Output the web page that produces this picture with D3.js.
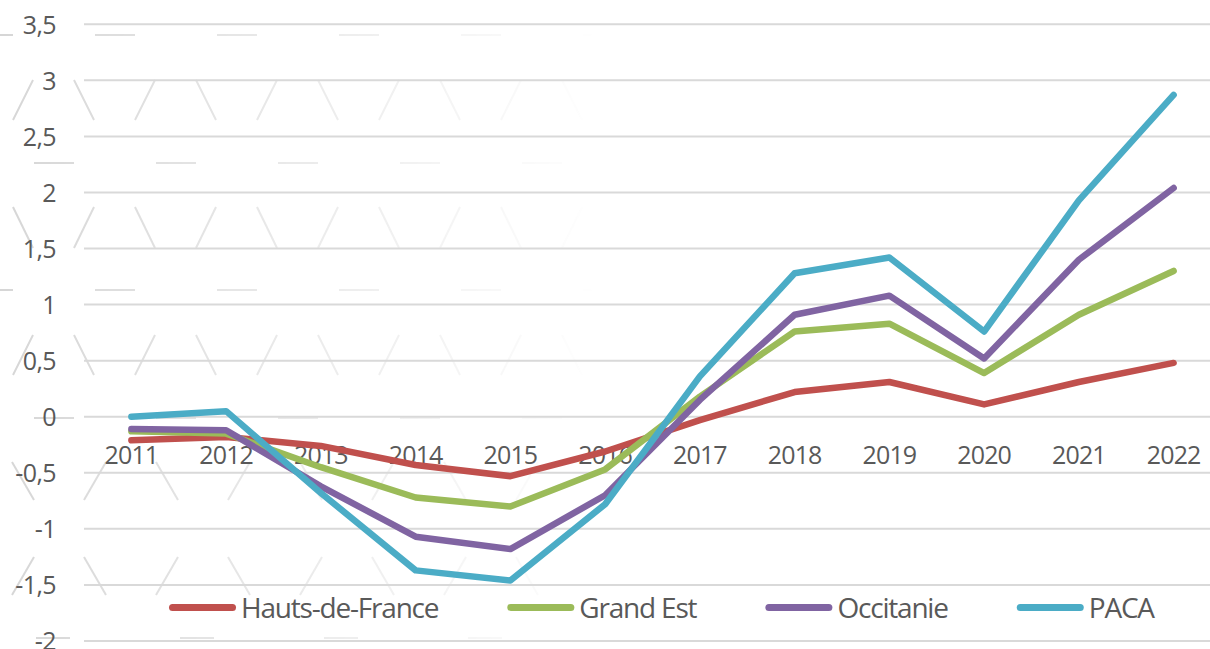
<!DOCTYPE html>
<html>
<head>
<meta charset="utf-8">
<script src="https://cdn.jsdelivr.net/npm/d3@7"></script>
<style>
body{margin:0;background:#fff;}
text{font-family:"Open Sans",sans-serif;fill:#595959;}
</style>
</head>
<body>
<div id="chart"></div>
<script>
var years = ["2011","2012","2013","2014","2015","2016","2017","2018","2019","2020","2021","2022"];
var hautsDeFrance = [-0.21,-0.18,-0.26,-0.43,-0.53,-0.31,-0.03,0.22,0.31,0.11,0.31,0.48];
var grandEst      = [-0.13,-0.15,-0.45,-0.72,-0.80,-0.47,0.18,0.76,0.83,0.39,0.91,1.30];
var occitanie     = [-0.11,-0.12,-0.62,-1.07,-1.18,-0.70,0.15,0.91,1.08,0.52,1.40,2.04];
var paca          = [0.00,0.05,-0.68,-1.37,-1.46,-0.78,0.36,1.28,1.42,0.76,1.93,2.87];
var seriesNames  = ["Hauts-de-France","Grand Est","Occitanie","PACA"];
var seriesColors = ["#C0504D","#9BBB59","#8064A2","#4BACC6"];
var yTicks = [-2,-1.5,-1,-0.5,0,0.5,1,1.5,2,2.5,3,3.5];

var W = 1210, H = 649;
var plotLeft = 84, plotRight = 1221, plotTop = 24.3, plotBottom = 641;

var svg = d3.select("#chart").append("svg")
	.attr("width", W)
	.attr("height", H);

var x = d3.scaleBand().domain(years).range([plotLeft, plotRight]);
var y = d3.scaleLinear().domain([-2, 3.5]).range([plotBottom, plotTop]);
var fr = d3.formatLocale({decimal: ",", thousands: " ", grouping: [3], currency: ["", "€"], minus: "-"});
var fmt = fr.format("~g");

// faint watermark in the background (fades to the right)
var defs = svg.append("defs");
var grad = defs.append("linearGradient").attr("id","fade").attr("x1",0).attr("x2",1).attr("y1",0).attr("y2",0);
grad.append("stop").attr("offset","0").attr("stop-color","#fff");
grad.append("stop").attr("offset","1").attr("stop-color","#000");
defs.append("mask").attr("id","wm").attr("maskUnits","userSpaceOnUse")
	.attr("x",0).attr("y",0).attr("width",W).attr("height",H)
	.append("rect").attr("x",0).attr("y",0).attr("width",600).attr("height",H).attr("fill","url(#fade)");

var wm = svg.append("g").attr("mask","url(#wm)")
	.attr("stroke","#d6d6d6").attr("stroke-width",2).attr("fill","none");
var segs = [];
// top part: period 122
[[35,-27],[163,34],[290,-27],[418,34]].forEach(function(r){
	for (var xx = r[1]; xx < 620; xx += 122) segs.push([xx, r[0], xx + 40, r[0]]);
});
[[80,120,0],[207,248,1],[335,375,0]].forEach(function(b){
	for (var k = 0; k < 10; k++) {
		var xx = 13 + 61 * k, back = (k + b[2]) % 2 == 1;
		if (back) segs.push([xx, b[0], xx + 20, b[1]]);
		else segs.push([xx, b[1], xx + 20, b[0]]);
	}
});
// lower part: a bit wider
[[462,500,1],[557,595,0]].forEach(function(b){
	for (var k = 0; k < 8; k++) {
		var xx = 12 + 72 * k, back = (k + b[2]) % 2 == 1;
		if (back) segs.push([xx, b[0], xx + 22, b[1]]);
		else segs.push([xx, b[1], xx + 22, b[0]]);
	}
});
for (var xx = 36; xx < 620; xx += 144) segs.push([xx, 638, xx + 34, 638]);
wm.selectAll("line").data(segs).enter().append("line")
	.attr("x1", function(d){return d[0];})
	.attr("y1", function(d){return d[1];})
	.attr("x2", function(d){return d[2];})
	.attr("y2", function(d){return d[3];});

// gridlines
svg.append("g").selectAll("line")
	.data(yTicks).enter().append("line")
	.attr("x1", plotLeft).attr("x2", W)
	.attr("y1", function(d){return y(d);})
	.attr("y2", function(d){return y(d);})
	.attr("stroke","#d9d9d9")
	.attr("stroke-width",2);

// y axis labels
var yAxis = d3.axisLeft(y).tickValues(yTicks).tickFormat(fmt).tickSize(0).tickPadding(0);
var gy = svg.append("g").attr("transform","translate(56,0)").call(yAxis);
gy.select(".domain").remove();
gy.selectAll("text")
	.attr("font-size","25px")
	.attr("font-family",null)
	.style("letter-spacing","-0.6px")
	.attr("dy","0.35em")
	.attr("fill","#595959");

// x axis labels sit just under zero
var xAxis = d3.axisBottom(x).tickSize(0).tickPadding(0);
var gx = svg.append("g").attr("transform","translate(0," + y(0) + ")").call(xAxis);
gx.select(".domain").remove();
gx.selectAll("text")
	.attr("font-size","25px")
	.attr("font-family",null)
	.style("letter-spacing","-0.8px")
	.attr("y", 0)
	.attr("dy", 47)
	.attr("fill","#595959");

// lines
var allSeries = [hautsDeFrance, grandEst, occitanie, paca];
var line = d3.line()
	.x(function(d, i){return x(years[i]) + x.bandwidth() / 2;})
	.y(function(d){return y(d);});

svg.append("g").selectAll("path")
	.data(allSeries).enter().append("path")
	.attr("d", line)
	.attr("fill","none")
	.attr("stroke", function(d, i){return seriesColors[i];})
	.attr("stroke-width",6.5)
	.attr("stroke-linecap","round")
	.attr("stroke-linejoin","round");

// legend
var legend = svg.append("g").attr("transform","translate(0,607.5)");
var lx = 169;
seriesNames.forEach(function(name, i){
	var g = legend.append("g");
	g.append("line")
		.attr("x1", lx + 3.5).attr("x2", lx + 63.5)
		.attr("y1", 0).attr("y2", 0)
		.attr("stroke", seriesColors[i])
		.attr("stroke-width",7)
		.attr("stroke-linecap","round");
	var t = g.append("text")
		.attr("x", lx + 72)
		.attr("y", 0)
		.attr("dy","0.36em")
		.attr("font-size","28px")
		.style("letter-spacing","-1.2px")
		.text(name);
	lx = lx + 72 + t.node().getComputedTextLength() + 69;
});
</script>
</body>
</html>
